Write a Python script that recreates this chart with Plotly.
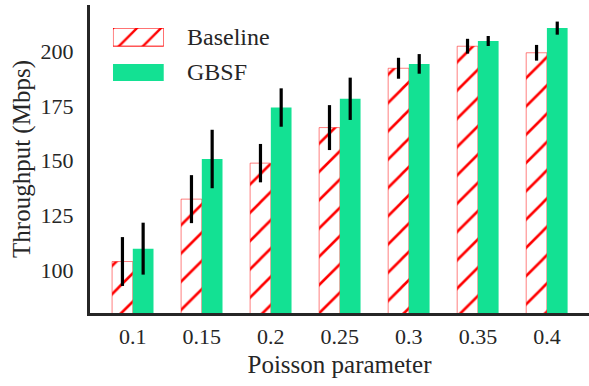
import plotly.graph_objects as go

categories = ["0.1", "0.15", "0.2", "0.25", "0.3", "0.35", "0.4"]
baseline = [103.8, 132.4, 148.9, 165.2, 192.4, 202.5, 199.5]
baseline_err = [11.2, 11.0, 8.8, 10.3, 4.8, 3.4, 3.6]
gbsf = [109.7, 150.8, 174.4, 178.4, 194.4, 204.9, 210.8]
gbsf_err = [11.9, 13.4, 8.8, 9.7, 4.5, 2.3, 3.0]
legend_names = ["Baseline", "GBSF"]

RED = "#ff0000"
GREEN = "#13e193"
TXT = "#262626"
FONT = "Liberation Serif, Times New Roman, serif"

fig = go.Figure()

fig.add_trace(go.Bar(
    x=categories, y=baseline, name=legend_names[0],
    marker=dict(color="white", line=dict(color="rgba(255,0,0,0.5)", width=1),
                pattern=dict(shape="/", fgcolor=RED, bgcolor="white", fgopacity=1,
                             size=20, solidity=0.13)),
    error_y=dict(type="data", array=baseline_err, color="black", thickness=3.2, width=0),
    showlegend=False,
))
fig.add_trace(go.Bar(
    x=categories, y=gbsf, name=legend_names[1],
    marker=dict(color=GREEN, line=dict(width=0)),
    error_y=dict(type="data", array=gbsf_err, color="black", thickness=3.2, width=0),
    showlegend=False,
))

# legend patches on a small auxiliary axis
fig.add_trace(go.Bar(
    x=[1], y=[1], orientation="h", xaxis="x2", yaxis="y2", width=0.51,
    marker=dict(color="white", line=dict(color=RED, width=1),
                pattern=dict(shape="/", fgcolor=RED, bgcolor="white", fgopacity=1,
                             size=17, solidity=0.14)),
    showlegend=False, hoverinfo="skip",
))
fig.add_trace(go.Bar(
    x=[1], y=[0], orientation="h", xaxis="x2", yaxis="y2", width=0.49,
    marker=dict(color=GREEN, line=dict(width=0)),
    showlegend=False, hoverinfo="skip",
))

for name, yp in zip(legend_names, [0.896, 0.781]):
    fig.add_annotation(text=name, x=0.19, y=yp, xref="paper", yref="paper",
                       xanchor="left", yanchor="middle", showarrow=False,
                       font=dict(family=FONT, size=24, color=TXT))

fig.update_layout(
    width=589, height=386,
    margin=dict(l=90, r=0, t=5, b=73),
    paper_bgcolor="white", plot_bgcolor="white",
    barmode="group", bargap=0.4, bargroupgap=0,
    font=dict(family=FONT, size=22, color=TXT),
    xaxis=dict(type="category", range=[-0.62, 6.61], showgrid=False, zeroline=False,
               showline=True, linewidth=3, linecolor=TXT, ticks="",
               ticklabelstandoff=2, tickfont=dict(family=FONT, size=22, color=TXT),
               title=dict(text="Poisson parameter", standoff=8,
                          font=dict(family=FONT, size=25, color=TXT))),
    yaxis=dict(range=[80.2, 221.4], tickvals=[100, 125, 150, 175, 200], showgrid=False,
               zeroline=False, showline=True, linewidth=3, linecolor=TXT, ticks="",
               ticklabelstandoff=9, tickfont=dict(family=FONT, size=22, color=TXT),
               title=dict(text="Throughput (Mbps)", standoff=3,
                          font=dict(family=FONT, size=25, color=TXT))),
    xaxis2=dict(domain=[0.046, 0.148], range=[0, 1], visible=False, anchor="y2", fixedrange=True),
    yaxis2=dict(domain=[0.753, 0.925], range=[-0.239, 1.254], visible=False, anchor="x2", fixedrange=True),
)

fig.write_html("out.html", config={"displayModeBar": False},
               post_script="document.body.style.margin='0px';")
